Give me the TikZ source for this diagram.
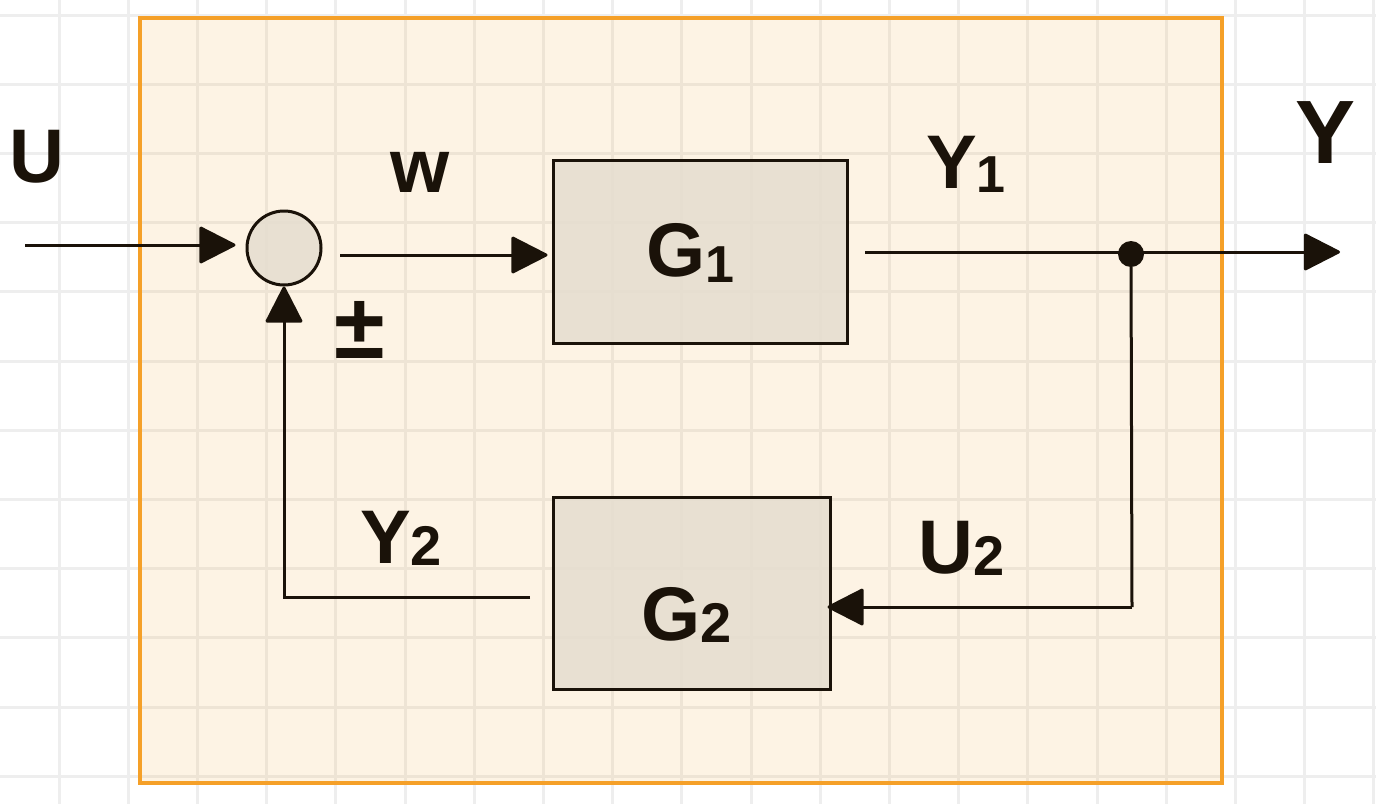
\documentclass[tikz,border=0pt]{standalone}
\usepackage{fontspec}
\setmainfont{Liberation Sans}
\usetikzlibrary{arrows.meta}
\definecolor{ink}{HTML}{1A1209}
\definecolor{frameor}{HTML}{F5A028}
\definecolor{gridc}{HTML}{EEEEEE}
\definecolor{boxfill}{HTML}{E5DDD0}
\begin{document}
\begin{tikzpicture}[x=1pt,y=-1pt,
  wire/.style={draw=ink,line width=3pt},
  arr/.style={wire,-{Triangle[length=38pt,width=38pt,round]}},
  block/.style={draw=ink,line width=3pt,fill=boxfill,fill opacity=0.85,draw opacity=1,inner sep=0pt},
  lab/.style={text=ink,font=\bfseries\fontsize{76}{76}\selectfont,inner sep=0pt},
]
\useasboundingbox (0,0) rectangle (1376,804);
\fill[white] (0,0) rectangle (1376,804);
\foreach \i in {0,...,19} \draw[gridc,line width=3pt] ({59+69.2*\i},0) -- ({59+69.2*\i},804);
\foreach \j in {0,...,11} \draw[gridc,line width=3pt] (0,{15+69.2*\j}) -- (1376,{15+69.2*\j});
% frame
\node[draw=frameor,line width=4pt,fill=frameor,fill opacity=0.12,draw opacity=1,
      minimum width=1082pt,minimum height=765pt,inner sep=0pt] (frame) at (681,400.5) {};
% blocks
\node[circle,block,minimum size=74pt] (sum) at (284,248) {};
\node[block,minimum width=294pt,minimum height=183pt] (G1) at (700,251.5) {};
\node[block,minimum width=277pt,minimum height=192pt] (G2) at (691.5,593) {};
\node[circle,fill=ink,minimum size=26pt,inner sep=0pt] (dot) at (1131,254) {};
% coordinates
\coordinate (uin) at (25,245);
\coordinate (w0) at (340,255);
\coordinate (y1s) at (865,252);
\coordinate (yout) at (1340,252);
\coordinate (c1) at (1132,607);
\coordinate (y2s) at (530,597);
% wires
\draw[arr,shorten >=10pt] (uin) -- (uin -| sum.west);
\draw[arr,shorten >=4pt] (w0) -- (w0 -| G1.west);
\draw[arr] (y1s) -- (yout);
\draw[wire] (dot) -- (c1);
\draw[arr,shorten >=-4pt] (c1) -- (c1 -| G2.east);
\draw[arr] (y2s) -| (sum.south);
% labels
\node[lab] (lu) at (37,157) {U};
\node[lab] (lw) at (420,172) {w};
\node[lab,anchor=base west] (ly1) at (926,188) {Y\raisebox{-4pt}{\fontsize{52}{52}\selectfont 1}};
\node[lab,font=\bfseries\fontsize{90}{90}\selectfont] (ly) at (1325,133) {Y};
\node[lab,font=\bfseries\fontsize{92}{92}\selectfont] (lpm) at (360,330) {±};
\node[lab,anchor=base west] (ly2) at (360,563) {Y\raisebox{-2pt}{\fontsize{56}{56}\selectfont 2}};
\node[lab,anchor=base west] (lu2) at (918,573) {U\raisebox{-2pt}{\fontsize{56}{56}\selectfont 2}};
\node[lab,anchor=base west] (lg1) at (646,276) {G\raisebox{-6pt}{\fontsize{52}{52}\selectfont 1}};
\node[lab,anchor=base west] (lg2) at (641,640) {G\raisebox{-2pt}{\fontsize{56}{56}\selectfont 2}};
\end{tikzpicture}
\end{document}
